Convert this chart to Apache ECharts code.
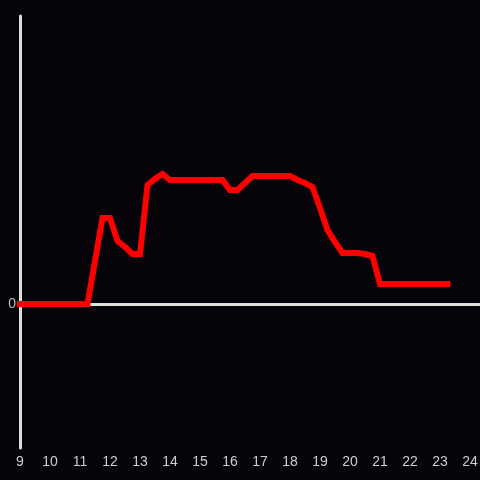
<!DOCTYPE html>
<html>
<head>
<meta charset="utf-8">
<style>
html, body { margin: 0; padding: 0; background: #060409; }
#chart { width: 480px; height: 480px; }
</style>
<script src="https://cdn.jsdelivr.net/npm/echarts@6/dist/echarts.min.js"></script>
</head>
<body>
<div id="chart"></div>
<script>
// hours of the day, 15 minute steps
const hours = [
  9, 9.25, 9.5, 9.75, 10, 10.25, 10.5, 10.75, 11, 11.25, 11.5, 11.75,
  12, 12.25, 12.5, 12.75, 13, 13.25, 13.5, 13.75, 14, 14.25, 14.5, 14.75,
  15, 15.25, 15.5, 15.75, 16, 16.25, 16.5, 16.75, 17, 17.25, 17.5, 17.75,
  18, 18.25, 18.5, 18.75, 19, 19.25, 19.5, 19.75, 20, 20.25, 20.5, 20.75,
  21, 21.25, 21.5, 21.75, 22, 22.25, 22.5, 22.75, 23, 23.25
];
const values = [
  0, 0, 0, 0, 0, 0, 0, 0, 0, 0, 43, 86,
  86, 63, 57, 50, 50, 119, 125, 130, 124, 124, 124, 124,
  124, 124, 124, 124, 114, 114, 121, 128, 128, 128, 128, 128,
  128, 124, 121, 117, 96, 74, 62, 51, 51, 51, 50, 48,
  20, 20, 20, 20, 20, 20, 20, 20, 20, 20
];
const xTicks = [9, 10, 11, 12, 13, 14, 15, 16, 17, 18, 19, 20, 21, 22, 23, 24];
const yLabels = [0];

let chart = echarts.init(document.getElementById('chart'));

let data = hours.map((h, i) => [h, values[i]]);

let option = {
  backgroundColor: '#060409',
  animation: false,
  grid: {
    left: 20,
    right: 0,
    top: 16,
    bottom: 32,
    outerBoundsMode: 'none'
  },
  xAxis: [{
    type: 'value',
    min: 9,
    max: 24.333,
    interval: 1,
    axisLine: { show: false, onZero: false },
    axisTick: { show: false },
    splitLine: { show: false },
    axisLabel: {
      margin: 7,
      color: '#cfcfcf',
      fontSize: 14,
      fontFamily: 'Liberation Sans',
      formatter: function(v) {
        return xTicks.indexOf(v) >= 0 ? String(v) : '';
      }
    }
  }, {
    // the zero line across the plot
    type: 'value',
    min: 9,
    max: 24.333,
    axisLine: {
      show: true,
      onZero: true,
      lineStyle: { color: '#dededa', width: 3 }
    },
    axisTick: { show: false },
    axisLabel: { show: false },
    splitLine: { show: false }
  }],
  yAxis: {
    type: 'value',
    min: -144,
    max: 288,
    interval: 144,
    axisLine: {
      show: true,
      onZero: false,
      lineStyle: { color: '#dededa', width: 3 }
    },
    axisTick: { show: false },
    splitLine: { show: false },
    axisLabel: {
      margin: 4,
      color: '#bdbdbd',
      fontSize: 14,
      fontFamily: 'Liberation Sans',
      formatter: function(v) {
        return yLabels.indexOf(v) >= 0 ? String(v) : '';
      }
    }
  },
  series: [{
    type: 'line',
    xAxisIndex: 0,
    data: data,
    showSymbol: false,
    lineStyle: {
      color: '#ff0000',
      width: 6,
      join: 'miter',
      cap: 'square'
    }
  }]
};
chart.setOption(option);
</script>
</body>
</html>
